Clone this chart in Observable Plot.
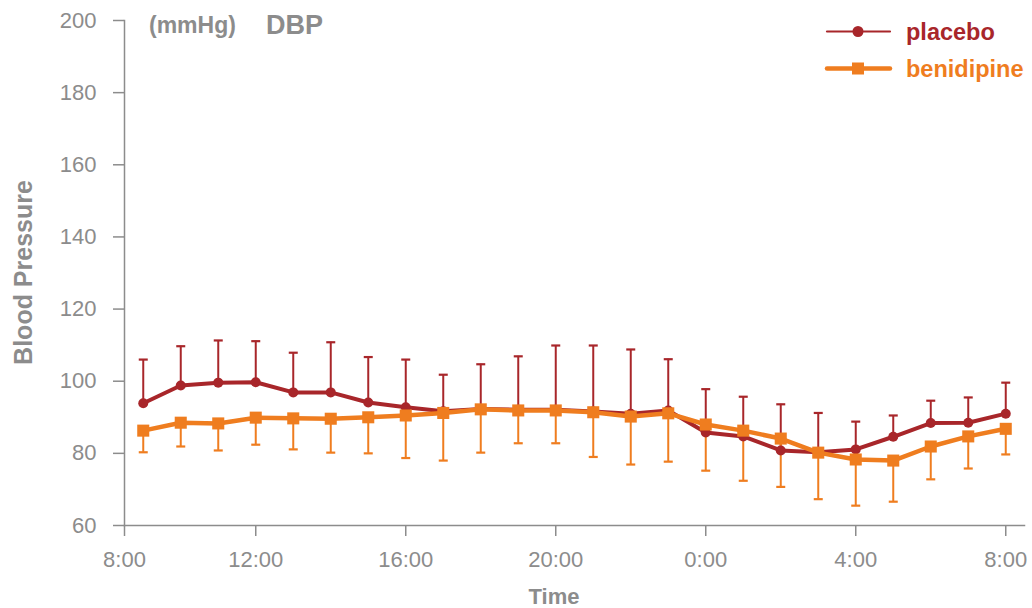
<!DOCTYPE html>
<html>
<head>
<meta charset="utf-8">
<script src="https://cdn.jsdelivr.net/npm/d3@7"></script>
<script src="https://cdn.jsdelivr.net/npm/@observablehq/plot@0.6"></script>
<style>
  html, body { margin: 0; padding: 0; background: #fff; }
  #chart { position: relative; width: 1032px; height: 608px; font-family: "Liberation Sans", Arial, Helvetica, sans-serif; }
  #chart svg { display: block; }
  .overlay { position: absolute; left: 0; top: 0; pointer-events: none; }
</style>
</head>
<body>
<div id="chart"></div>
<script>
// Hourly ambulatory readings, 9:00 through 8:00 the next morning (hours past midnight of day 1)
const hours = [9, 10, 11, 12, 13, 14, 15, 16, 17, 18, 19, 20, 21, 22, 23, 24, 25, 26, 27, 28, 29, 30, 31, 32];

// Diastolic blood pressure (mmHg): mean and the end of the SD whisker
const placeboMean = [93.9, 98.8, 99.6, 99.7, 96.9, 96.9, 94.1, 92.8, 91.7, 92.3, 92.1, 92.1, 91.6, 91.0, 91.9, 85.8, 84.7, 80.8, 80.3, 81.1, 84.6, 88.4, 88.5, 91.0];
const placeboUpper = [106.0, 109.7, 111.3, 111.1, 107.9, 110.8, 106.7, 106.0, 101.8, 104.7, 106.9, 109.9, 109.9, 108.8, 106.1, 97.8, 95.7, 93.6, 91.2, 88.8, 90.5, 94.6, 95.5, 99.6];
const benidipineMean = [86.3, 88.5, 88.3, 89.9, 89.7, 89.6, 90.0, 90.5, 91.2, 92.2, 91.9, 91.9, 91.4, 90.2, 91.1, 88.0, 86.3, 84.1, 80.2, 78.3, 78.0, 81.9, 84.7, 86.8];
const benidipineLower = [80.3, 81.9, 80.8, 82.4, 81.1, 80.2, 80.0, 78.7, 78.0, 80.2, 82.8, 82.8, 79.0, 76.9, 77.7, 75.2, 72.4, 70.7, 67.3, 65.5, 66.6, 72.8, 75.8, 79.7];

const yTicks = [60, 80, 100, 120, 140, 160, 180, 200];
const xTicks = [8.5, 12, 16, 20, 24, 28, 32];

const seriesNames = ["placebo", "benidipine"];
const colors = {placebo: "#a8262a", benidipine: "#ef7d1f"};
const gray = "#8c8c8c";

const placebo = hours.map((t, i) => ({t, mean: placeboMean[i], end: placeboUpper[i]}));
const benidipine = hours.map((t, i) => ({t, mean: benidipineMean[i], end: benidipineLower[i]}));

// Horizontal whisker cap
const cap = {draw(ctx) { ctx.moveTo(-4.5, 0); ctx.lineTo(4.5, 0); }};

const fmtHour = d => `${Math.floor(d) % 24}:00`;

const plot = Plot.plot({
  width: 1032,
  height: 608,
  marginLeft: 124,
  marginRight: 8,
  marginTop: 20,
  marginBottom: 83,
  style: {fontFamily: "Liberation Sans, Arial, Helvetica, sans-serif", color: gray, background: "#fff"},
  x: {domain: [8.5, 32.5]},
  y: {domain: [60, 200]},
  marks: [
    Plot.axisY({ticks: yTicks, tickSize: 11, tickPadding: 17, fontSize: 22, stroke: gray, strokeWidth: 1.5, strokeOpacity: 1, label: null, fill: gray}),
    Plot.axisX({ticks: xTicks, tickFormat: fmtHour, tickSize: 11, tickPadding: 15, fontSize: 22, stroke: gray, strokeWidth: 1.5, strokeOpacity: 1, label: null, fill: gray}),
    Plot.frame({anchor: "left", stroke: gray, strokeWidth: 1.5}),
    Plot.frame({anchor: "bottom", stroke: gray, strokeWidth: 1.5}),
    // SD whiskers
    Plot.ruleX(placebo, {x: "t", y1: "mean", y2: "end", stroke: colors.placebo, strokeWidth: 2}),
    Plot.dot(placebo, {x: "t", y: "end", symbol: cap, stroke: colors.placebo, strokeWidth: 2.2, fill: "none", r: 3}),
    Plot.ruleX(benidipine, {x: "t", y1: "mean", y2: "end", stroke: colors.benidipine, strokeWidth: 2}),
    Plot.dot(benidipine, {x: "t", y: "end", symbol: cap, stroke: colors.benidipine, strokeWidth: 2.2, fill: "none", r: 3}),
    // Means
    Plot.line(placebo, {x: "t", y: "mean", stroke: colors.placebo, strokeWidth: 4, strokeLinejoin: "round"}),
    Plot.dot(placebo, {x: "t", y: "mean", fill: colors.placebo, r: 5, stroke: "none"}),
    Plot.line(benidipine, {x: "t", y: "mean", stroke: colors.benidipine, strokeWidth: 4.5, strokeLinejoin: "round"}),
    Plot.dot(benidipine, {x: "t", y: "mean", symbol: "square", fill: colors.benidipine, r: 6.8, stroke: "none"})
  ]
});

const chart = document.getElementById("chart");
chart.appendChild(plot);

// Unit, panel title, axis titles and legend
const ov = d3.select(chart).append("svg")
  .attr("class", "overlay").attr("width", 1032).attr("height", 608)
  .style("font-family", "Liberation Sans, Arial, Helvetica, sans-serif");

ov.append("text").attr("x", 149).attr("y", 25).attr("dominant-baseline", "central")
  .attr("font-size", 23).attr("font-weight", "bold").attr("fill", gray).text("(mmHg)");
ov.append("text").attr("x", 266).attr("y", 25).attr("dominant-baseline", "central")
  .attr("font-size", 27).attr("font-weight", "bold").attr("fill", gray).text("DBP");
ov.append("text").attr("x", 554).attr("y", 596).attr("dominant-baseline", "central").attr("text-anchor", "middle")
  .attr("font-size", 22).attr("font-weight", "bold").attr("fill", gray).text("Time");
ov.append("text").attr("transform", "translate(23,272.5) rotate(-90)")
  .attr("dominant-baseline", "central").attr("text-anchor", "middle")
  .attr("font-size", 25).attr("font-weight", "bold").attr("fill", gray).text("Blood Pressure");

const legendRows = [
  {name: seriesNames[0], y: 31.5, width: 2.2, marker: "circle"},
  {name: seriesNames[1], y: 68.5, width: 4.5, marker: "square"}
];
for (const row of legendRows) {
  const g = ov.append("g");
  const c = colors[row.name];
  g.append("line").attr("x1", 827).attr("x2", 890).attr("y1", row.y).attr("y2", row.y)
    .attr("stroke", c).attr("stroke-width", row.width).attr("stroke-linecap", "round");
  if (row.marker === "circle") {
    g.append("circle").attr("cx", 858).attr("cy", row.y).attr("r", 5.5).attr("fill", c);
  } else {
    g.append("rect").attr("x", 852).attr("y", row.y - 6).attr("width", 12).attr("height", 12).attr("fill", c);
  }
  g.append("text").attr("x", 906).attr("y", row.y).attr("dominant-baseline", "central")
    .attr("font-size", 23.5).attr("font-weight", "bold").attr("fill", c).text(row.name);
}
</script>
</body>
</html>
